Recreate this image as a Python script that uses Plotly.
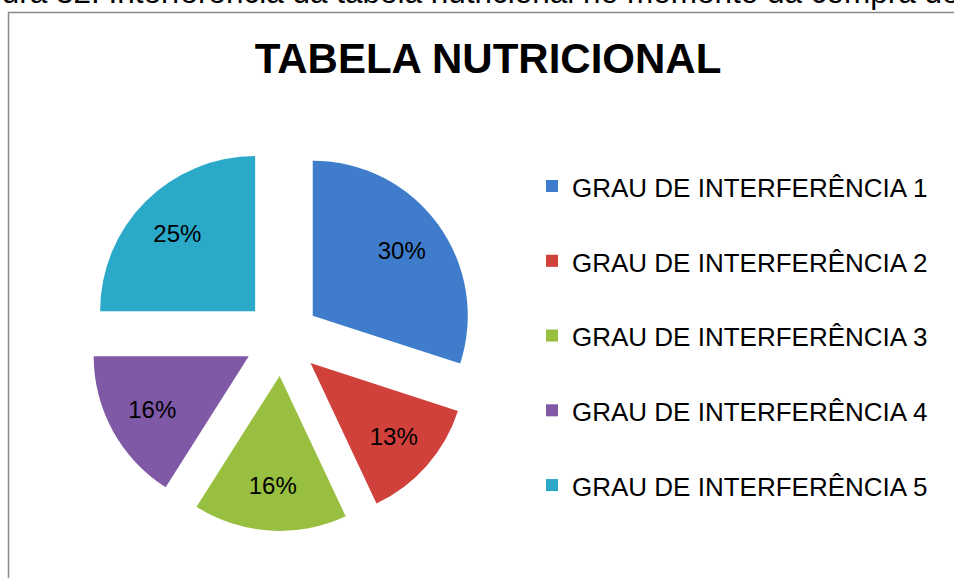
import plotly.graph_objects as go

# ---- data ----
labels = [
    "GRAU DE INTERFERÊNCIA 1",
    "GRAU DE INTERFERÊNCIA 2",
    "GRAU DE INTERFERÊNCIA 3",
    "GRAU DE INTERFERÊNCIA 4",
    "GRAU DE INTERFERÊNCIA 5",
]
values = [30, 13, 16, 16, 25]
colors = ["#3f7dcc", "#d0413c", "#98bf3f", "#7f58a6", "#2aa9c9"]
title_text = "TABELA NUTRICIONAL"
caption_text = "Figura 32: Interferência da tabela nutricional no momento da compra de"

W, H = 954, 578
FONT = "Liberation Sans, Arial, sans-serif"

# legend labels: visible text at 26px plus an empty second line for row spacing
legend_labels = ['<span style="font-size:26px">%s</span><br> ' % l for l in labels]

dom_x = [89 / W, 475 / W]
dom_y = [1 - 531 / H, 1 - 145 / H]
pull = [0.245] * len(values)

fig = go.Figure()

# slices
fig.add_trace(go.Pie(
    labels=legend_labels,
    values=values,
    sort=False,
    direction="clockwise",
    rotation=0,
    pull=pull,
    marker=dict(colors=colors, line=dict(width=0)),
    textinfo="none",
    hoverinfo="skip",
    domain=dict(x=dom_x, y=dom_y),
    showlegend=True,
))

# percentage labels (transparent ring so labels sit further out)
fig.add_trace(go.Pie(
    labels=legend_labels,
    values=values,
    sort=False,
    direction="clockwise",
    rotation=0,
    pull=pull,
    hole=0.42,
    marker=dict(colors=["rgba(0,0,0,0)"] * len(values), line=dict(width=0)),
    textinfo="percent",
    textposition="inside",
    insidetextorientation="horizontal",
    insidetextfont=dict(family=FONT, size=24, color="black"),
    hovertemplate="%{percent}<extra></extra>",
    domain=dict(x=dom_x, y=dom_y),
    showlegend=False,
))

fig.update_layout(
    width=W, height=H,
    margin=dict(l=0, r=0, t=0, b=0),
    paper_bgcolor="white",
    plot_bgcolor="white",
    font=dict(family=FONT, color="black"),
    title=dict(
        text="<b>%s</b>" % title_text,
        font=dict(family=FONT, size=42, color="black"),
        x=488 / W, xanchor="center",
        y=1 - 43.3 / H, yanchor="top",
        yref="container", xref="container",
    ),
    legend=dict(
        x=532 / W, xanchor="left",
        y=1 - 161.6 / H, yanchor="top",
        font=dict(family=FONT, size=27.6, color="black"),
        valign="top",
        bgcolor="rgba(0,0,0,0)",
        traceorder="normal",
    ),
    shapes=[dict(
        type="rect", xref="paper", yref="paper",
        x0=8.5 / W, x1=1.2, y0=-0.2, y1=1 - 12.5 / H,
        line=dict(color="#8a8a8a", width=1.5),
        fillcolor="rgba(0,0,0,0)",
        layer="above",
    )],
    annotations=[dict(
        text=caption_text,
        xref="paper", yref="paper",
        x=-44 / W, xanchor="left",
        y=1 - 12 / H, yanchor="bottom",
        showarrow=False,
        font=dict(family=FONT, size=31.5, color="black"),
    )],
)

fig.write_html(
    "out.html",
    config={"displayModeBar": False},
    post_script="document.body.style.margin='0';document.body.style.overflow='hidden';",
)
